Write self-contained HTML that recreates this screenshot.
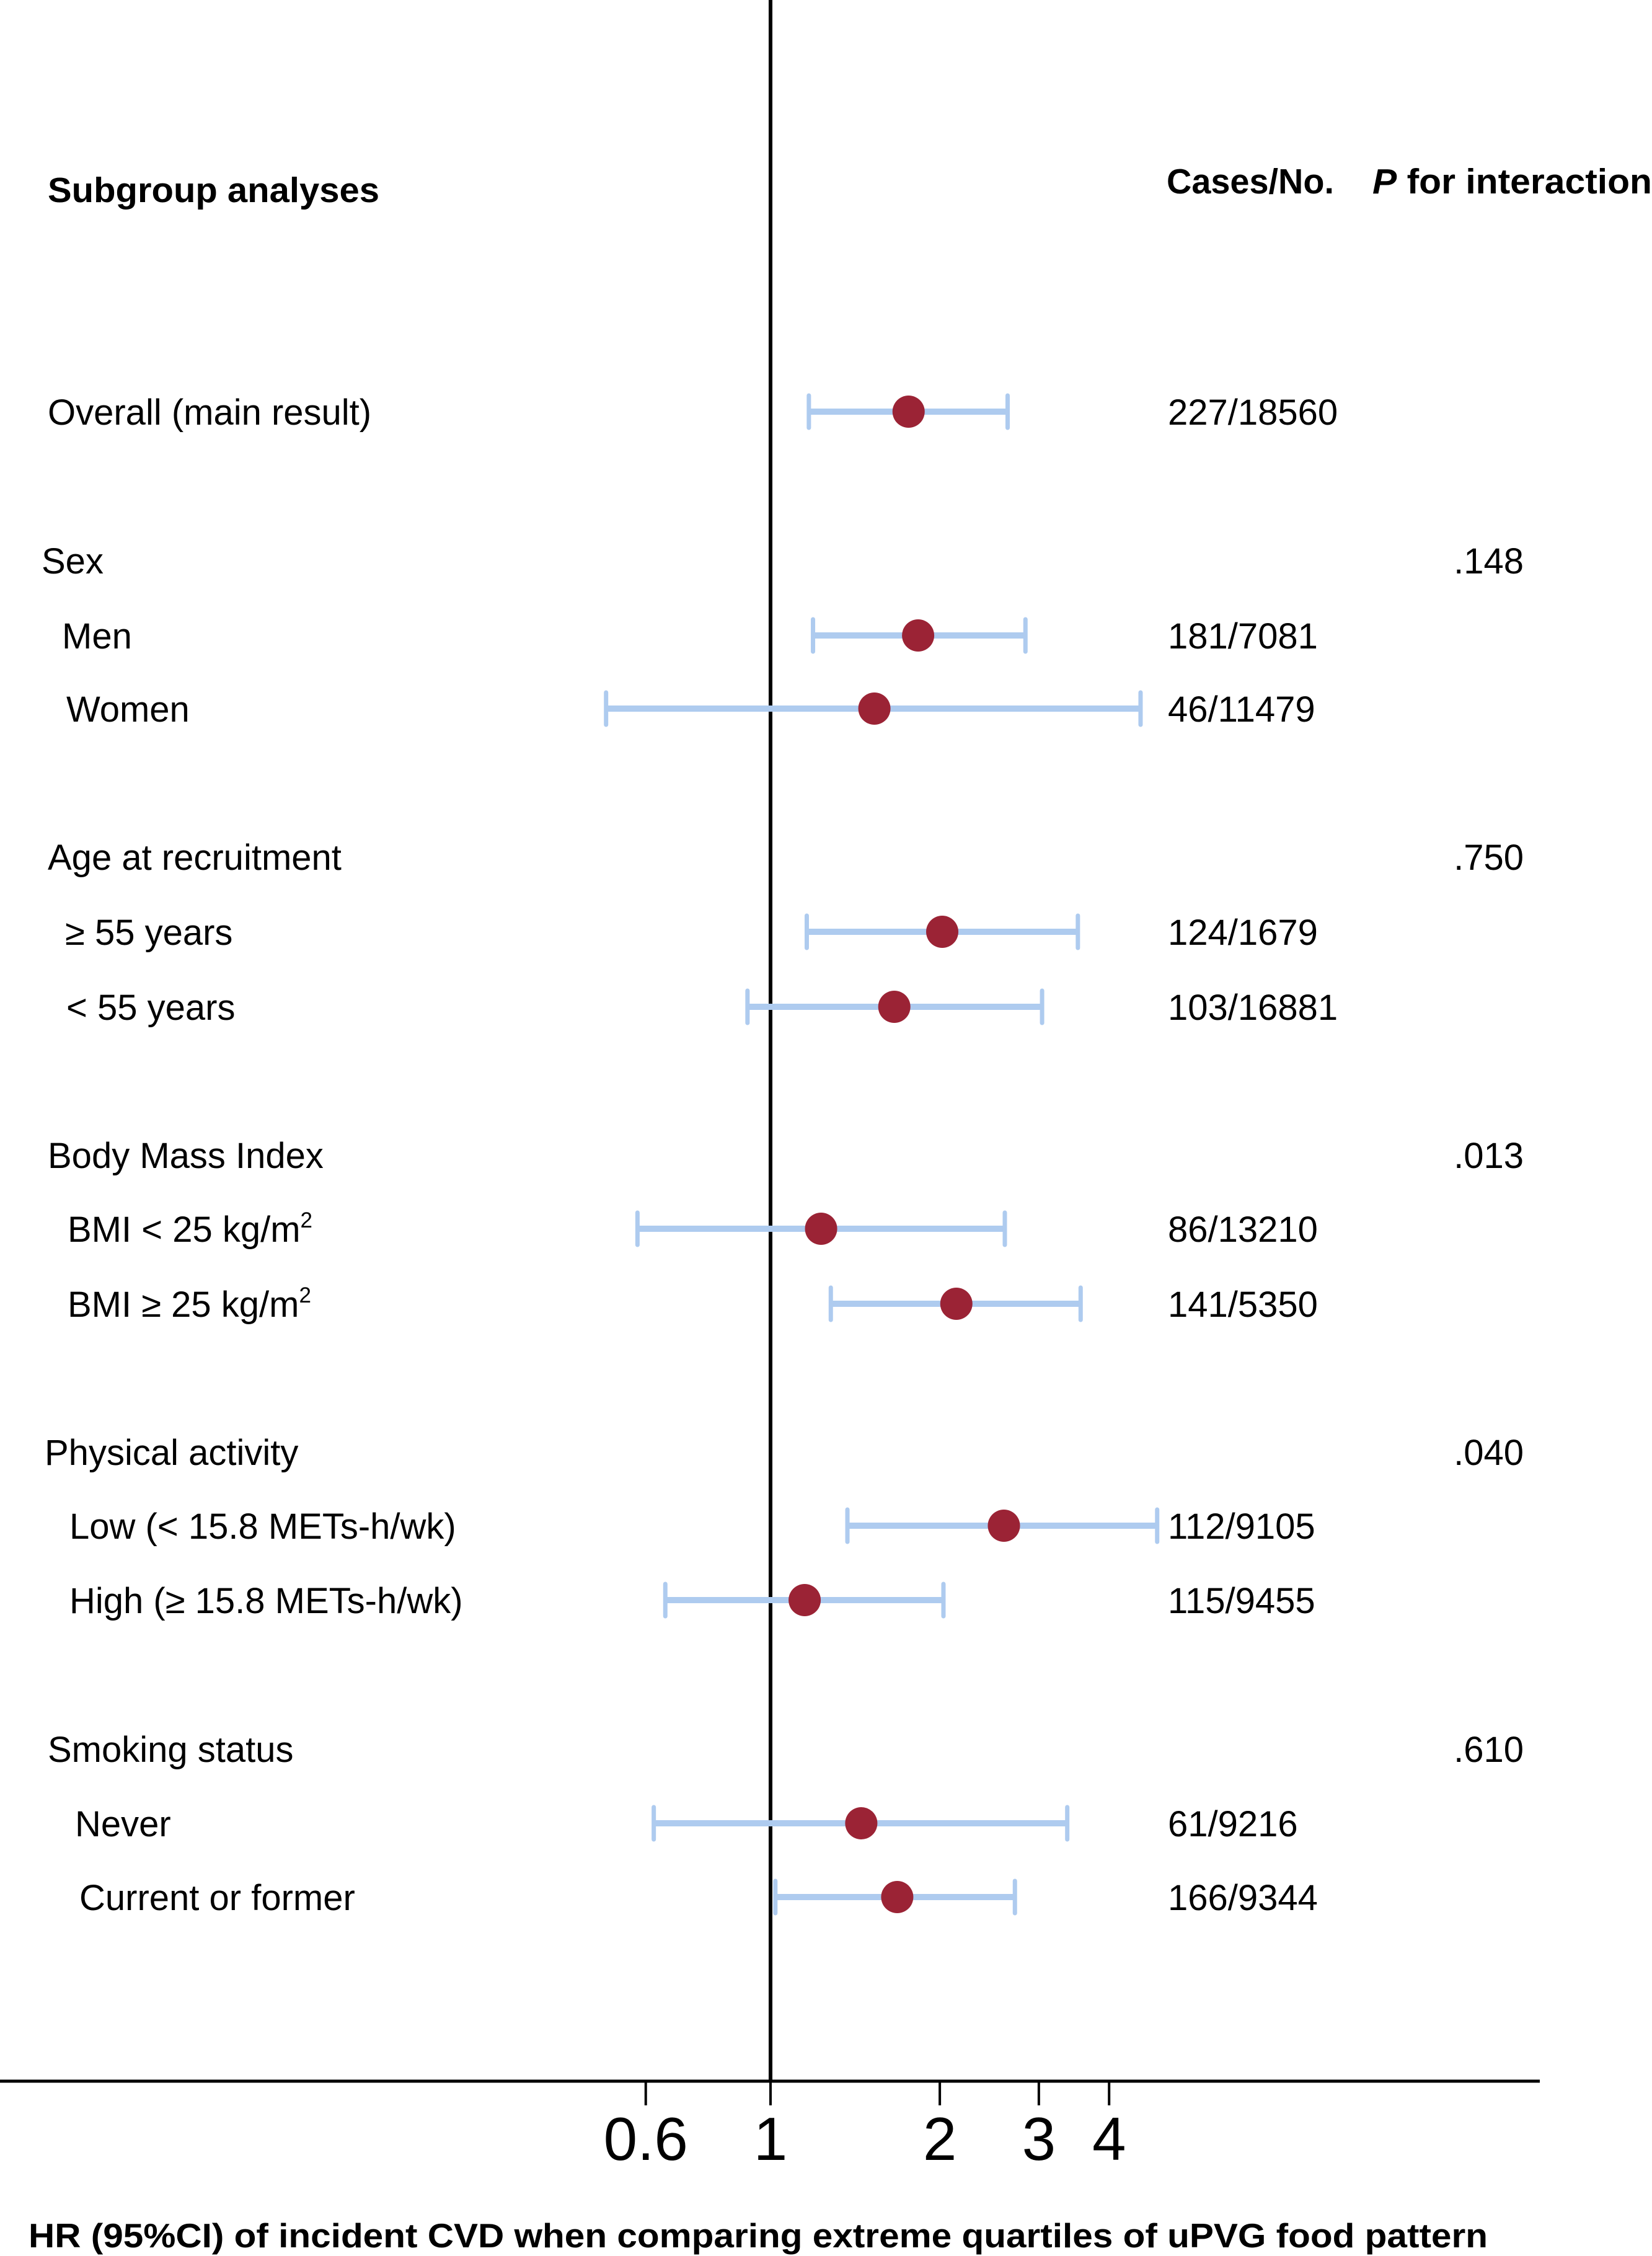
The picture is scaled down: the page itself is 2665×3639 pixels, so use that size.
<!DOCTYPE html>
<html><head><meta charset="utf-8"><style>
html,body{margin:0;padding:0;background:#fff}
svg{display:block}
text{font-family:"Liberation Sans",Arial,sans-serif;fill:#000}
</style></head><body>
<svg id="chart" width="2665" height="3639" viewBox="0 0 2665 3639" xmlns="http://www.w3.org/2000/svg">
<text x="77" y="326" font-size="57" font-weight="bold" textLength="535" lengthAdjust="spacingAndGlyphs">Subgroup analyses</text>
<text x="1882" y="312" font-size="57" font-weight="bold" textLength="270" lengthAdjust="spacingAndGlyphs">Cases/No.</text>
<text x="2214" y="312" font-size="57" font-weight="bold" textLength="451" lengthAdjust="spacingAndGlyphs"><tspan font-style="italic">P</tspan> for interaction</text>
<g id="rows"></g>
<text x="46" y="3625" font-size="55" font-weight="bold" textLength="2354" lengthAdjust="spacingAndGlyphs">HR (95%CI) of incident CVD when comparing extreme quartiles of uPVG food pattern</text>
</svg>
<script>
const labels = ["Overall (main result)","Sex","Men","Women","Age at recruitment","≥ 55 years","< 55 years","Body Mass Index","BMI < 25 kg/m²","BMI ≥ 25 kg/m²","Physical activity","Low (< 15.8 METs-h/wk)","High (≥ 15.8 METs-h/wk)","Smoking status","Never","Current or former"];
const hr   = [1.76,null,1.83,1.53,null,2.02,1.66,null,1.23,2.14,null,2.60,1.15,null,1.45,1.68];
const lo   = [1.17,null,1.19,0.51,null,1.16,0.91,null,0.58,1.28,null,1.37,0.65,null,0.62,1.02];
const hi   = [2.64,null,2.84,4.55,null,3.52,3.04,null,2.61,3.56,null,4.87,2.03,null,3.37,2.72];
const cases = ["227/18560","","181/7081","46/11479","","124/1679","103/16881","","86/13210","141/5350","","112/9105","115/9455","","61/9216","166/9344"];
const pvals = ["",".148","","",".750","","",".013","","",".040","","",".610","",""];
const ticks = [0.6,1,2,3,4];
const tickLabels = ["0.6","1","2","3","4"];

const rowY = [664,904,1025,1143,1382,1503,1624,1863,1982,2103,2342,2461,2581,2821,2941,3060];
const labelX = [77,67,100,107,77,105,107,77,109,109,72,112,112,77,121,128];
const X0 = 1243, K = 394;
function xs(v){ return X0 + K*Math.log(v); }
const NS = "http://www.w3.org/2000/svg";
const g = document.getElementById('rows');
function mk(tag, attrs, parent){ const e=document.createElementNS(NS,tag); for(const k in attrs) e.setAttribute(k,attrs[k]); (parent||g).appendChild(e); return e; }

let ref = mk('line',{x1:X0,y1:0,x2:X0,y2:3357,stroke:'#000','stroke-width':6});


let ax = mk('line',{x1:0,y1:3357,x2:2484,y2:3357,stroke:'#000','stroke-width':5});


ticks.forEach((t,i)=>{
  const x = xs(t);
  const tk = mk('line',{x1:x,y1:3357,x2:x,y2:3396,stroke:'#000','stroke-width':4});
  
  
  const tl = mk('text',{x:x,y:3484,'font-size':98,'text-anchor':'middle'});
  tl.textContent = tickLabels[i];
  
  
});

labels.forEach((lab,i)=>{
  const y = rowY[i];
  const t = mk('text',{x:labelX[i],y:y+21,'font-size':58});
  if(lab.indexOf('m²')>=0){
    t.appendChild(document.createTextNode(lab.replace('m²','m')));
    const s = document.createElementNS(NS,'tspan');
    s.setAttribute('dy',-23); s.setAttribute('font-size',35); s.textContent='2';
    t.appendChild(s);
  } else t.textContent = lab;
  
  
  if(cases[i]){
    const c = mk('text',{x:1884,y:y+21,'font-size':58});
    c.textContent = cases[i];
    
    
  }
  if(pvals[i]){
    const p = mk('text',{x:2458,y:y+21,'font-size':58,'text-anchor':'end'});
    p.textContent = pvals[i];
    
    
  }
  if(hr[i]!=null){
    const x1 = xs(lo[i]), x2 = xs(hi[i]), xm = xs(hr[i]);
    const ci = mk('line',{x1:x1,y1:y,x2:x2,y2:y,stroke:'#aecbef','stroke-width':10});
    
    
    [x1,x2].forEach(cx=>{
      const cap = mk('line',{x1:cx,y1:y-26,x2:cx,y2:y+26,stroke:'#aecbef','stroke-width':7,'stroke-linecap':'round'});
      
      
    });
    const pt = mk('circle',{cx:xm,cy:y,r:26,fill:'#9b2335'});
    
    
  }
});
</script>
</body></html>
